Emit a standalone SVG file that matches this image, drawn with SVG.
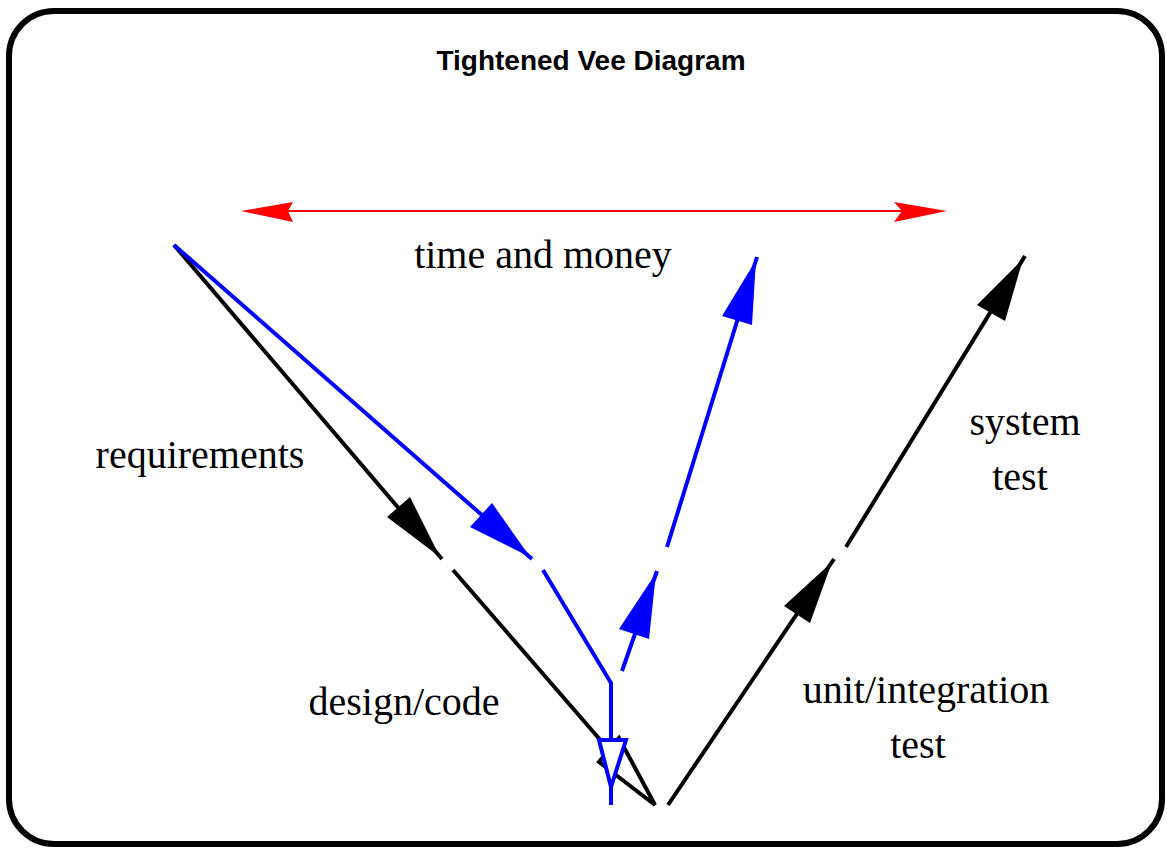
<svg xmlns="http://www.w3.org/2000/svg" width="1167" height="850" viewBox="0 0 1167 850">
<style>
.lbl{font-family:"Liberation Serif","Times New Roman",serif;font-size:40px;fill:#000;text-anchor:middle}
.title{font-family:"Liberation Sans",Arial,sans-serif;font-size:28px;font-weight:bold;fill:#000;text-anchor:middle}
.bk{stroke:#000;stroke-width:4;fill:none}
.bl{stroke:#0000ff;stroke-width:4;fill:none}
.rd{stroke:#ff0000;stroke-width:2;fill:none}
</style>
<rect x="9" y="11" width="1153" height="833" rx="45" ry="45" fill="#fff" stroke="#000" stroke-width="6"/>
<text class="title" x="591" y="70">Tightened Vee Diagram</text>
<g id="connectors">
  <g id="red-arrow">
    <line class="rd" x1="250" y1="211" x2="940" y2="211"/>
    <polygon points="241,211 293,202 288,211 293,222" fill="#ff0000"/>
    <polygon points="947,211 894,202 902,211 894,222" fill="#ff0000"/>
  </g>
  <g id="black-left">
    <line class="bk" x1="174" y1="245" x2="442" y2="559"/>
    <polygon points="387,517 410,497 440,557" fill="#000"/>
    <line class="bk" x1="453" y1="570" x2="609" y2="750"/>
    <polygon points="655,805 619,738 599,762" fill="#fff" stroke="#000" stroke-width="4" stroke-linejoin="miter"/>
  </g>
  <g id="black-right">
    <line class="bk" x1="668" y1="805" x2="834" y2="559"/>
    <polygon points="784,606 810,623 832,562" fill="#000"/>
    <line class="bk" x1="846" y1="547" x2="1025" y2="256"/>
    <polygon points="977,305 1005,321 1023,259" fill="#000"/>
  </g>
  <g id="blue-left">
    <line class="bl" x1="174" y1="245" x2="532" y2="559"/>
    <polygon points="470,527 492,503 530,557" fill="#0000ff"/>
    <polyline class="bl" points="543,570 611,683 611,740"/>
    <polygon points="599,740 626,740 611,787" fill="#fff" stroke="#0000ff" stroke-width="4"/>
    <line class="bl" x1="611" y1="787" x2="611" y2="805"/>
  </g>
  <g id="blue-right">
    <line class="bl" x1="622" y1="671" x2="657" y2="571"/>
    <polygon points="619,629 649,639 656,573" fill="#0000ff"/>
    <line class="bl" x1="667" y1="547" x2="757" y2="257"/>
    <polygon points="722,316 752,325 756,260" fill="#0000ff"/>
  </g>
</g>
<g id="labels">
  <text id="time-money" class="lbl" x="543" y="268">time and money</text>
  <text id="requirements" class="lbl" x="200" y="468">requirements</text>
  <text id="design-code" class="lbl" x="404" y="715">design/code</text>
  <g id="system-test">
    <text class="lbl" x="1025" y="435">system</text>
    <text class="lbl" x="1020" y="490">test</text>
  </g>
  <g id="unit-test">
    <text class="lbl" x="926" y="703">unit/integration</text>
    <text class="lbl" x="918" y="758">test</text>
  </g>
</g>
</svg>
